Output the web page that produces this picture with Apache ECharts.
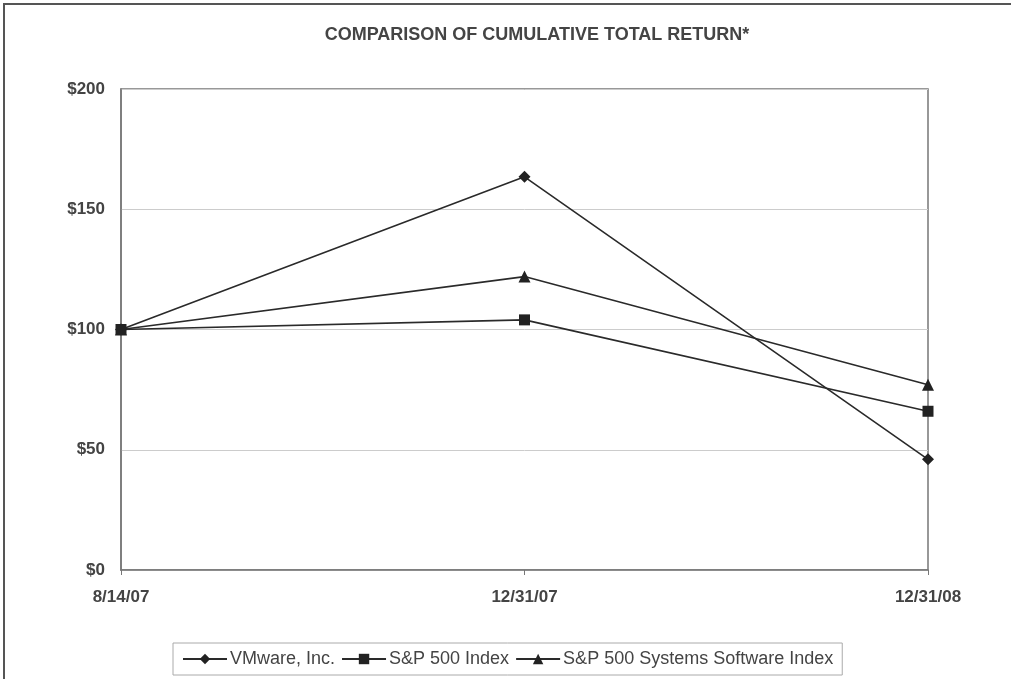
<!DOCTYPE html>
<html>
<head>
<meta charset="utf-8">
<script src="https://cdn.jsdelivr.net/npm/echarts@6/dist/echarts.min.js"></script>
<style>
html,body{margin:0;padding:0;background:#fff;}
#frame{position:absolute;left:3px;top:3px;width:1008px;height:676px;border-top:2px solid #555;border-left:2px solid #555;box-sizing:border-box;}
#chart{position:absolute;left:0;top:0;width:1011px;height:679px;}
</style>
</head>
<body>
<div id="frame"></div>
<div id="chart"></div>
<script>
const categories = ['8/14/07', '12/31/07', '12/31/08'];
const vmware = [100, 163.5, 46];
const sp500 = [100, 104, 66];
const software = [100, 122, 77];
const yTicks = [0, 50, 100, 150, 200];

const chart = echarts.init(document.getElementById('chart'), null, {renderer: 'canvas'});
const font = 'Liberation Sans, Arial, sans-serif';
function series(name, data, symbol, size) {
  return {
    name, type: 'line', data, symbol, symbolSize: size,
    lineStyle: {color: '#2a2a2a', width: 1.6},
    itemStyle: {color: '#222'},
    emphasis: {disabled: true}
  };
}
chart.setOption({
  animation: false,
  title: {
    text: 'COMPARISON OF CUMULATIVE TOTAL RETURN*',
    left: 532, top: 21, textAlign: 'center',
    textStyle: {fontFamily: font, fontSize: 18, fontWeight: 'bold', color: '#444'}
  },
  grid: {left: 121, right: 83, top: 89, bottom: 109, show: true, borderColor: '#777', borderWidth: 1.5},
  xAxis: {
    type: 'category', data: categories, boundaryGap: false,
    axisLine: {lineStyle: {color: '#777', width: 1.5}},
    axisTick: {show: true, length: 5, lineStyle: {color: '#777'}},
    axisLabel: {fontFamily: font, fontSize: 17, fontWeight: 'bold', color: '#444', margin: 19},
    splitLine: {show: false}
  },
  yAxis: {
    type: 'value', min: yTicks[0], max: yTicks[yTicks.length - 1], interval: 50,
    axisLine: {show: true, lineStyle: {color: '#777', width: 1.5}},
    axisTick: {show: false},
    axisLabel: {fontFamily: font, fontSize: 17, fontWeight: 'bold', color: '#444', margin: 16,
      formatter: v => '$' + v},
    splitLine: {show: true, lineStyle: {color: '#ccc', width: 1}}
  },
  legend: {
    top: 643, left: 173,
    itemWidth: 44, itemHeight: 13, itemGap: 6,
    borderColor: '#aaa', borderWidth: 1, padding: [7, 9, 7, 9],
    textStyle: {fontFamily: font, fontSize: 18, color: '#444', padding: [0, 0, 0, -2]},
    data: ['VMware, Inc.', 'S&P 500 Index', 'S&P 500 Systems Software Index']
  },
  series: [
    series('VMware, Inc.', vmware, 'diamond', 12),
    series('S&P 500 Index', sp500, 'rect', 11),
    series('S&P 500 Systems Software Index', software, 'triangle', 12)
  ]
});
</script>
</body>
</html>
